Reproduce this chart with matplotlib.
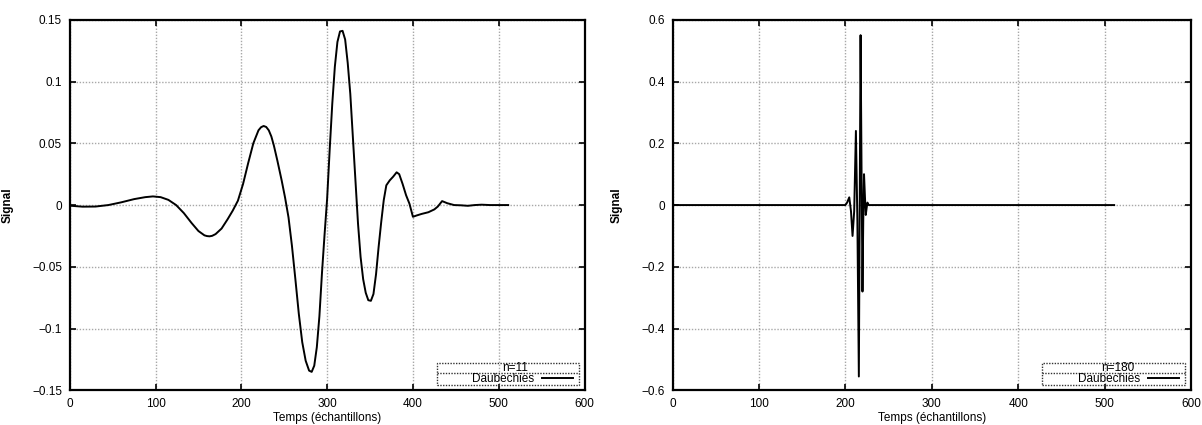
import matplotlib
matplotlib.use('Agg')
import matplotlib.pyplot as plt
from matplotlib.patches import Rectangle
from matplotlib.lines import Line2D
from matplotlib.ticker import FuncFormatter

plt.rcParams['font.family'] = ['Liberation Sans', 'DejaVu Sans']

# left panel, n=11
t_left = [0, 15, 30, 45, 60, 75, 88, 97, 106, 115, 124, 133, 142, 150, 157, 160, 163,
          166, 170, 177, 184, 190, 196, 202, 208, 214, 220, 223, 226, 229, 232, 235,
          238, 242, 247,
          251, 255, 259, 263, 267, 271, 275, 279, 282, 285, 288, 291, 294, 297,
          300, 303, 306, 309, 312, 315, 318, 321, 324, 327, 330, 333, 336, 339,
          342, 345, 348, 351, 354, 357, 360, 363, 366, 369, 373, 377, 381, 384,
          388, 392, 396, 400, 404, 410, 418, 425, 429, 434, 440, 448, 456, 464,
          472, 480, 490, 500, 511]
s_left = [-0.0005, -0.0013, -0.0012, 0.0, 0.0022, 0.0048, 0.0064, 0.0070, 0.0064,
          0.0042, 0.0, -0.0065, -0.0145, -0.0210, -0.0245, -0.0251, -0.0253,
          -0.0249, -0.0235,
          -0.0190, -0.0115, -0.0045, 0.0035, 0.0170, 0.0340, 0.0500, 0.0605,
          0.0630, 0.0640, 0.0632, 0.0605, 0.0555, 0.0480, 0.0360, 0.0200,
          0.0060, -0.0100, -0.0330,
          -0.0600, -0.0880, -0.1110, -0.1260, -0.1340, -0.1350, -0.1300, -0.1150,
          -0.0900, -0.0550, -0.0240, 0.0050, 0.0450, 0.0820, 0.1120, 0.1320,
          0.1405, 0.1410, 0.1340, 0.1150, 0.0900, 0.0550, 0.0200, -0.0150,
          -0.0420, -0.0600, -0.0710, -0.0770, -0.0775, -0.0720, -0.0560, -0.0340,
          -0.0140, 0.0040, 0.0160, 0.0200, 0.0230, 0.0265, 0.0250, 0.0170, 0.0080,
          0.0010, -0.0095, -0.0085, -0.0072, -0.0058, -0.0035, -0.0012, 0.0032,
          0.0015, 0.0, -0.0002, -0.0006, 0.0, 0.0003, 0.0, 0.0, 0.0]

# right panel, n=180
t_right = [0, 200, 202, 204.5, 206.5, 208.3, 210.2, 212.2, 213.9, 215.6, 216.6,
           217.6, 218.7, 219.8, 220.7, 221.6, 222.6, 223.6, 224.6, 225.5, 227, 511]
s_right = [0.0, 0.0, 0.008, 0.025, -0.02, -0.10, -0.02, 0.24, -0.05, -0.555, 0.0,
           0.55, 0.12, -0.28, -0.05, 0.10, 0.03, -0.032, -0.01, 0.008, 0.0, 0.0]

panels = [
    dict(t=t_left, s=s_left, n='n=11', ylim=(-0.15, 0.15),
         yticks=[-0.15, -0.1, -0.05, 0, 0.05, 0.1, 0.15],
         pos=[0.058, 0.0814, 0.4283, 0.8722], ylab_x=-0.108),
    dict(t=t_right, s=s_right, n='n=180', ylim=(-0.6, 0.6),
         yticks=[-0.6, -0.4, -0.2, 0, 0.2, 0.4, 0.6],
         pos=[0.5595, 0.0814, 0.4314, 0.8722], ylab_x=-0.097),
]
xticks = [0, 100, 200, 300, 400, 500, 600]

fmt = FuncFormatter(lambda v, p: ('%g' % round(v, 4)).replace('-', '\u2212'))

fig = plt.figure(figsize=(12.02, 4.25), dpi=100)

for p in panels:
    ax = fig.add_axes(p['pos'])
    ax.plot(p['t'], p['s'], color='black', lw=1.4, label='Daubechies',
            solid_joinstyle='round')
    ax.set_xlim(0, 600)
    ax.set_ylim(*p['ylim'])
    ax.set_xticks(xticks)
    ax.set_yticks(p['yticks'])
    ax.yaxis.set_major_formatter(fmt)
    ax.grid(True, color='#a8a8a8', lw=1.0, linestyle=(0, (1, 1.2)))
    ax.tick_params(direction='in', top=True, right=True, length=4, width=1.2,
                   labelsize=8.5, pad=5.5)
    for sp in ax.spines.values():
        sp.set_linewidth(1.6)
    ax.set_xlabel('Temps (échantillons)', fontsize=8.5)
    ax.set_ylabel('Signal', fontsize=8.5, fontweight='bold')
    ax.xaxis.set_label_coords(0.5, -0.057)
    ax.yaxis.set_label_coords(p['ylab_x'], 0.5)

    # gnuplot-like key: dotted box, title row, entry row
    x0, x1 = 0.7135, 0.989
    y0, y1 = 0.0146, 0.074
    ysep = 0.047
    ax.add_patch(Rectangle((x0, y0), x1 - x0, y1 - y0, transform=ax.transAxes,
                           fill=False, ec='#333333', lw=1.0, ls=(0, (1, 1)),
                           zorder=5))
    ax.add_line(Line2D([x0, x1], [ysep, ysep], transform=ax.transAxes,
                       color='#333333', lw=1.0, ls=(0, (1, 1)), zorder=5))
    ax.text(0.890, 0.0605, p['n'], transform=ax.transAxes, ha='right',
            va='center', fontsize=8.5, zorder=6)
    ax.legend(loc='center right', bbox_to_anchor=(0.977, 0.031), frameon=False,
              markerfirst=False, fontsize=8.5, borderpad=0, borderaxespad=0,
              handlelength=2.6, handletextpad=0.7)

fig.savefig('out.png', dpi=100)
